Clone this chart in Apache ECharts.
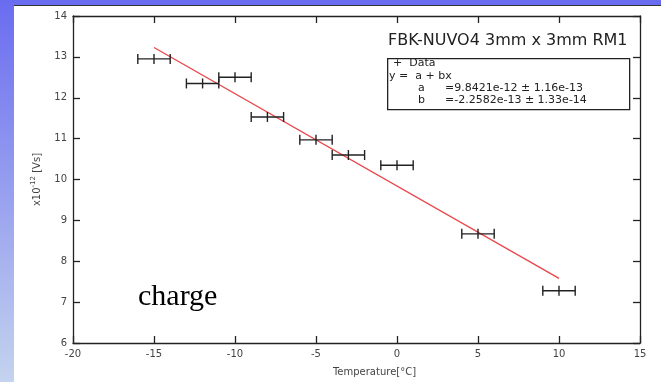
<!DOCTYPE html>
<html>
<head>
<meta charset="utf-8">
<script src="https://cdn.jsdelivr.net/npm/echarts@6/dist/echarts.min.js"></script>
<style>
html,body{margin:0;padding:0;background:#fff;}
#wrap{position:relative;width:661px;height:382px;overflow:hidden;background:#fff;}
#band-top{position:absolute;left:0;top:0;width:661px;height:5px;background:#6a6cf0;}
#band-left{position:absolute;left:0;top:0;width:14px;height:382px;background:linear-gradient(#6a6cf0,#c4d3ee);}
#line-top{position:absolute;left:14px;top:5px;width:647px;height:1px;background:#333;}
#chart{position:absolute;left:0;top:0;width:661px;height:382px;}
</style>
</head>
<body>
<div id="wrap">
<div id="chart"></div>
<div id="band-top"></div>
<div id="band-left"></div>
<div id="line-top"></div>
</div>
<script>
// Data (charge, units of 1e-12 Vs)
const temperature = [-15, -12, -10, -8, -5, -3, 0, 5, 10];
const charge = [12.95, 12.35, 12.50, 11.53, 10.97, 10.60, 10.35, 8.67, 7.28];
const tempError = [1, 1, 1, 1, 1, 1, 1, 1, 1];
const fitX = [-15, 10];
const fitY = [13.23, 7.58];
const xTicks = [-20, -15, -10, -5, 0, 5, 10, 15];
const yTicks = [6, 7, 8, 9, 10, 11, 12, 13, 14];

const chart = echarts.init(document.getElementById('chart'), null, {renderer: 'canvas'});

const errData = temperature.map((t, i) => [t, charge[i], tempError[i]]);
const fitData = fitX.map((x, i) => [x, fitY[i]]);

const labelFont = {color: '#444', fontFamily: 'DejaVu Sans', fontSize: 10};
const axisLine = {show: true, onZero: false, lineStyle: {color: '#222', width: 1.3}};
const tick = {show: true, inside: true, length: 7, lineStyle: {color: '#222', width: 1.3}};

const option = {
  animation: false,
  backgroundColor: 'transparent',
  grid: {left: 73, right: 21, top: 16, bottom: 31, containLabel: false},
  xAxis: [{
    type: 'value', min: xTicks[0], max: xTicks[xTicks.length - 1], interval: 5, position: 'bottom',
    axisLine: axisLine, axisTick: tick,
    axisLabel: Object.assign({margin: 6}, labelFont),
    splitLine: {show: false},
    name: 'Temperature[°C]', nameLocation: 'middle', nameGap: 24,
    nameTextStyle: {color: '#444', fontFamily: 'DejaVu Sans', fontSize: 10, padding: [0, 0, 0, 36]}
  }, {
    type: 'value', min: xTicks[0], max: xTicks[xTicks.length - 1], interval: 5, position: 'top',
    axisLine: axisLine, axisTick: tick,
    axisLabel: {show: false}, splitLine: {show: false}
  }],
  yAxis: [{
    type: 'value', min: yTicks[0], max: yTicks[yTicks.length - 1], interval: 1, position: 'left',
    axisLine: axisLine, axisTick: tick,
    axisLabel: Object.assign({margin: 6}, labelFont),
    splitLine: {show: false},
    name: '{a|x10}{s|-12}{a| [Vs]}', nameLocation: 'middle', nameGap: 28, nameRotate: 90,
    nameTextStyle: {
      rich: {
        a: {color: '#444', fontFamily: 'DejaVu Sans', fontSize: 10},
        s: {color: '#444', fontFamily: 'DejaVu Sans', fontSize: 7, padding: [0, 0, 8, 0]}
      }
    }
  }, {
    type: 'value', min: yTicks[0], max: yTicks[yTicks.length - 1], interval: 1, position: 'right',
    axisLine: axisLine, axisTick: tick,
    axisLabel: {show: false}, splitLine: {show: false}
  }],
  series: [{
    type: 'line', data: fitData, xAxisIndex: 0, yAxisIndex: 0,
    symbol: 'none', lineStyle: {color: '#e8454a', width: 1.3}, z: 3
  }, {
    type: 'custom', xAxisIndex: 0, yAxisIndex: 0, data: errData, z: 4,
    renderItem: function (params, api) {
      const x = api.value(0), y = api.value(1), e = api.value(2);
      const lo = api.coord([x - e, y]);
      const hi = api.coord([x + e, y]);
      const c = api.coord([x, y]);
      const h = 5;
      const st = {stroke: '#222', lineWidth: 1.4};
      return {
        type: 'group',
        children: [
          {type: 'line', shape: {x1: lo[0], y1: lo[1], x2: hi[0], y2: hi[1]}, style: st},
          {type: 'line', shape: {x1: lo[0], y1: lo[1] - h, x2: lo[0], y2: lo[1] + h}, style: st},
          {type: 'line', shape: {x1: hi[0], y1: hi[1] - h, x2: hi[0], y2: hi[1] + h}, style: st},
          {type: 'line', shape: {x1: c[0], y1: c[1] - h, x2: c[0], y2: c[1] + h}, style: st}
        ]
      };
    }
  }],
  graphic: [
    {type: 'text', left: 388, top: 33, style: {text: 'FBK-NUVO4 3mm x 3mm RM1', fill: '#222', font: '16px "DejaVu Sans"'}},
    {type: 'rect', left: 387, top: 58, shape: {width: 242, height: 51}, style: {fill: '#fff', stroke: '#222', lineWidth: 1.3}},
    {type: 'text', left: 393, top: 58, style: {text: '+  Data', fill: '#222', font: '11px "DejaVu Sans"'}},
    {type: 'text', left: 389, top: 71, style: {text: 'y =  a + bx', fill: '#222', font: '11px "DejaVu Sans"'}},
    {type: 'text', left: 418, top: 83, style: {text: 'a', fill: '#222', font: '11px "DejaVu Sans"'}},
    {type: 'text', left: 445, top: 83, style: {text: '=9.8421e-12 ± 1.16e-13', fill: '#222', font: '11px "DejaVu Sans"'}},
    {type: 'text', left: 418, top: 95, style: {text: 'b', fill: '#222', font: '11px "DejaVu Sans"'}},
    {type: 'text', left: 445, top: 95, style: {text: '=-2.2582e-13 ± 1.33e-14', fill: '#222', font: '11px "DejaVu Sans"'}},
    {type: 'text', left: 138, top: 282, style: {text: 'charge', fill: '#000', font: '30px "Liberation Serif"'}}
  ]
};
chart.setOption(option);
</script>
</body>
</html>
